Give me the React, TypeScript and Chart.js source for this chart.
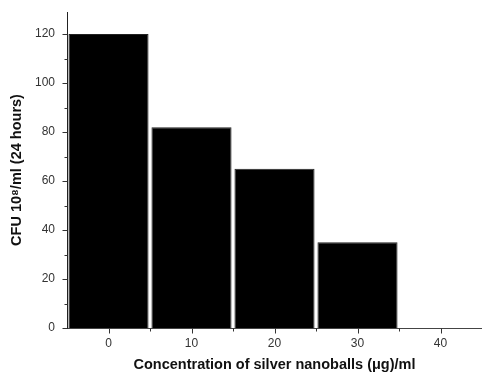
import React, { useEffect, useRef } from "react";
import { Chart, registerables } from "chart.js";

Chart.register(...registerables);

const categories = ["0", "10", "20", "30", "40"];
const cfuValues: (number | null)[] = [120, 82, 65, 35, null];
const yMajorTicks = [0, 20, 40, 60, 80, 100, 120];
const yMinorTicks = [10, 30, 50, 70, 90, 110];

const tickPlugin = {
  id: "originTicks",
  afterDraw(chart: any) {
    const ctx = chart.ctx;
    const x = chart.scales.x;
    const y = chart.scales.y;
    ctx.save();
    ctx.strokeStyle = "#333";
    ctx.lineWidth = 1;
    ctx.beginPath();
    const ax = Math.round(x.left) + 0.5;
    yMajorTicks.forEach((v) => {
      const py = Math.round(y.getPixelForValue(v)) + 0.5;
      ctx.moveTo(ax - 5, py);
      ctx.lineTo(ax, py);
    });
    yMinorTicks.forEach((v) => {
      const py = Math.round(y.getPixelForValue(v)) + 0.5;
      ctx.moveTo(ax - 3, py);
      ctx.lineTo(ax, py);
    });
    const ay = Math.round(y.bottom) + 0.5;
    const step = x.getPixelForValue(1) - x.getPixelForValue(0);
    categories.forEach((_, i) => {
      const px = Math.round(x.getPixelForValue(i)) + 0.5;
      ctx.moveTo(px, ay);
      ctx.lineTo(px, ay + 5);
      if (i > 0) {
        const bx = Math.round(x.getPixelForValue(i) - step / 2) + 0.5;
        ctx.moveTo(bx, ay);
        ctx.lineTo(bx, ay + 3);
      }
    });
    ctx.stroke();
    ctx.restore();
  },
};

export default function App() {
  const ref = useRef<HTMLCanvasElement>(null);
  useEffect(() => {
    if (!ref.current) return;
    const chart = new Chart(ref.current, {
      type: "bar",
      data: {
        labels: categories,
        datasets: [
          {
            data: cfuValues,
            backgroundColor: "#000",
            borderColor: "#222",
            borderWidth: 1,
            barPercentage: 0.965,
            categoryPercentage: 1,
          },
        ],
      },
      options: {
        animation: false,
        responsive: false,
        maintainAspectRatio: false,
        layout: { padding: { top: 12, right: 0, left: 0, bottom: 0 } },
        plugins: { legend: { display: false }, tooltip: { enabled: false } },
        scales: {
          x: {
            offset: true,
            grid: { display: false, drawTicks: false },
            border: { display: true, color: "#444", width: 1 },
            ticks: {
              padding: 8,
              color: "#333",
              font: { family: "Liberation Sans, Arial, sans-serif", size: 12 },
            },
            title: {
              display: true,
              text: "Concentration of silver nanoballs (\u03bcg)/ml",
              color: "#111",
              font: { family: "Liberation Sans, Arial, sans-serif", size: 14.5, weight: "bold" },
              padding: { top: 0, bottom: 2 },
            },
            afterFit: (s: any) => {
              s.height = 48;
              s.paddingLeft = 0;
              s.paddingRight = 0;
            },
          },
          y: {
            min: 0,
            max: 129,
            grid: { display: false, drawTicks: false },
            border: { display: true, color: "#222", width: 1 },
            afterBuildTicks: (s: any) => {
              s.ticks = yMajorTicks.map((v) => ({ value: v }));
            },
            ticks: {
              padding: 12,
              color: "#333",
              font: { family: "Liberation Sans, Arial, sans-serif", size: 12 },
            },
            title: {
              display: true,
              text: "CFU 10\u2078/ml (24 hours)",
              color: "#111",
              font: { family: "Liberation Sans, Arial, sans-serif", size: 14.5, weight: "bold" },
              padding: { top: 8, bottom: 0 },
            },
            afterFit: (s: any) => {
              s.width = 67;
              s.paddingTop = 0;
              s.paddingBottom = 0;
            },
          },
        },
      },
      plugins: [tickPlugin],
    });
    return () => chart.destroy();
  }, []);
  return (
    <div style={{ position: "fixed", left: 0, top: 0, width: 482, height: 376, background: "#fff" }}>
      <canvas ref={ref} width={482} height={376} style={{ display: "block" }} />
    </div>
  );
}
